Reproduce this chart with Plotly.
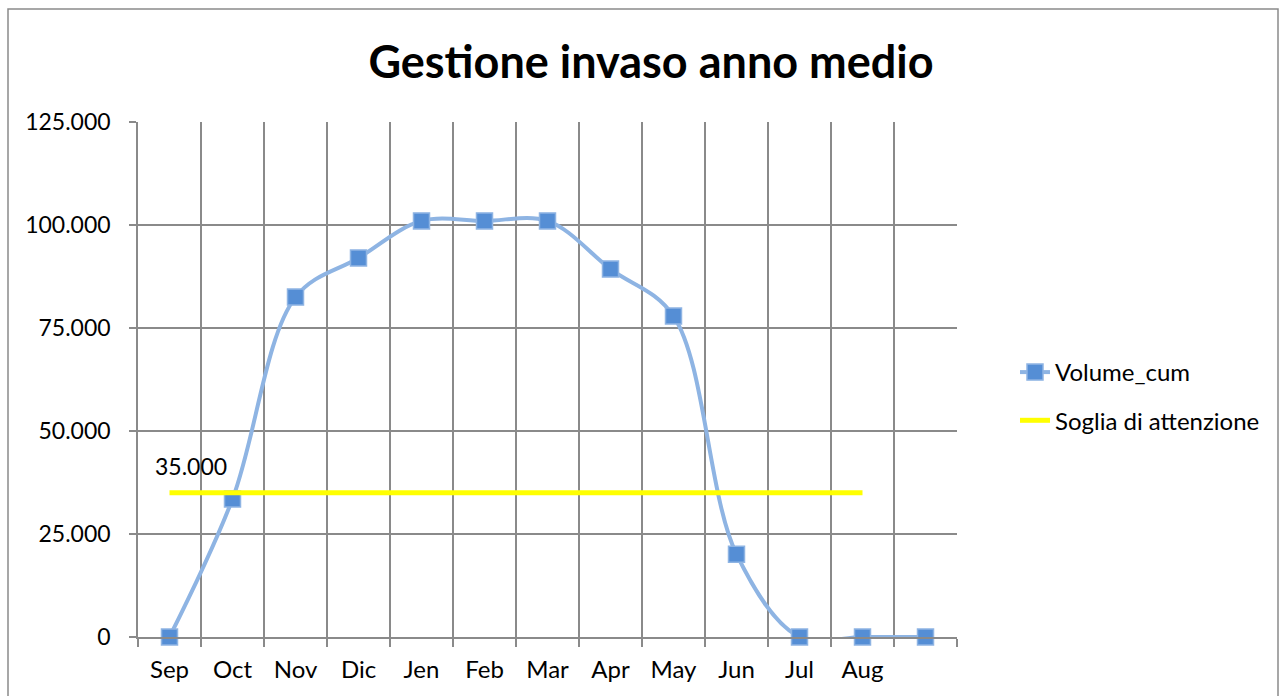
import plotly.graph_objects as go

months = ["Sep", "Oct", "Nov", "Dic", "Jen", "Feb", "Mar", "Apr", "May", "Jun", "Jul", "Aug", " "]
volume_cum = [0, 33500, 82500, 92000, 101000, 101000, 101000, 89300, 77900, 20100, 0, 0, 0]
soglia_months = months[:12]
soglia = [35000] * 12
soglia_label = "35.000"

FONT = "Lato"
GRID = "#8a8a8a"

fig = go.Figure()
fig.add_trace(go.Scatter(
    x=months, y=volume_cum, name="Volume_cum", mode="lines+markers",
    line=dict(color="#8EB4E3", width=4, shape="spline", smoothing=1),
    marker=dict(symbol="square", size=16, color="#558ED5",
                line=dict(color="#8EB4E3", width=1.5)),
    legendgroup="a", cliponaxis=False,
))
fig.add_trace(go.Scatter(
    x=soglia_months, y=soglia, name="Soglia di attenzione", mode="lines",
    line=dict(color="#FFFF00", width=5),
    legendgroup="b",
))
fig.add_annotation(x=soglia_months[0], y=soglia[0], text=soglia_label, showarrow=False,
                   xshift=21, yshift=27, font=dict(family=FONT, size=23, color="#000"))

W, H = 1280, 696
L, R, T, B = 138, 323, 122, 59
pw, ph = W - L - R, H - T - B
def px(x): return (x - L) / pw
def py(y): return (H - B - y) / ph
fig.add_shape(type="rect", xref="paper", yref="paper",
              x0=px(8), x1=px(1278), y0=py(705), y1=py(9),
              line=dict(color="#8a8a8a", width=1.5), fillcolor="rgba(0,0,0,0)", layer="below")

fig.update_layout(
    width=W, height=H,
    margin=dict(l=L, r=R, t=T, b=B),
    paper_bgcolor="white", plot_bgcolor="white",
    separators=",.",
    font=dict(family=FONT, size=23, color="#000"),
    title=dict(text="<b>Gestione invaso anno medio</b>", x=651 / W, xanchor="center",
               y=1 - 62 / H, yanchor="middle", font=dict(family=FONT, size=45, color="#000")),
    legend=dict(x=px(1015), y=py(350), xanchor="left", yanchor="top",
                font=dict(family=FONT, size=24), tracegroupgap=14, bgcolor="rgba(0,0,0,0)"),
    xaxis=dict(type="category", categoryorder="array", categoryarray=months,
               tickson="boundaries", showgrid=True, gridcolor=GRID, gridwidth=1.5,
               ticks="outside", ticklen=8, tickcolor=GRID, tickwidth=1.5,
               showline=True, linecolor=GRID, linewidth=1.5, mirror=False,
               range=[-0.5, 12.5], zeroline=False, tickfont=dict(size=24),
               ticklabelstandoff=10),
    yaxis=dict(range=[0, 125000], dtick=25000, tickformat=",d",
               showgrid=True, gridcolor=GRID, gridwidth=1.5,
               ticks="outside", ticklen=7, tickcolor=GRID, tickwidth=1.5,
               showline=True, linecolor=GRID, linewidth=1.5, zeroline=False,
               ticklabelstandoff=14),
)
fig.write_html("out.html", config={"displayModeBar": False},
               post_script="document.body.style.margin='0';document.body.style.overflow='hidden';")
